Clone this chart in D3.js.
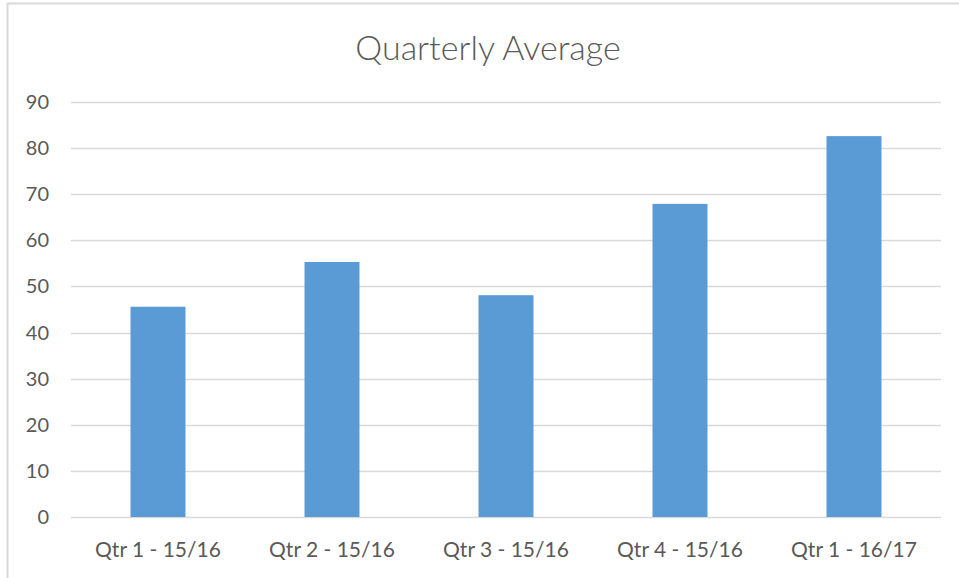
<!DOCTYPE html>
<html>
<head>
    <script type="text/javascript" src="https://cdn.jsdelivr.net/npm/d3@7"></script>
    <style>
    body {
        padding: 0;
        margin: 0;
        background: #fff;
    }
    text {
        font-family: Lato, "Open Sans", sans-serif;
        fill: #595959;
    }
  </style>
</head>
<body>
    <div id="viz"></div>
    <script type="text/javascript">

    // data
    var categories = ["Qtr 1 - 15/16", "Qtr 2 - 15/16", "Qtr 3 - 15/16", "Qtr 4 - 15/16", "Qtr 1 - 16/17"];
    var values = [45.6, 55.3, 48.1, 67.9, 82.6];
    var yTicks = [0, 10, 20, 30, 40, 50, 60, 70, 80, 90];
    var title = "Quarterly Average";

    var W = 959, H = 578;
    // plot area edges (don't call it "top", that is window.top)
    var pLeft = 71, pRight = 941, pTop = 102, pBottom = 517;

    var svg = d3.select('#viz')
      .append('svg')
      .attr('width', W)
      .attr('height', H);

    // chart frame, runs off the right/bottom edges
    svg.append('rect')
      .attr('x', 7.5).attr('y', 3.5)
      .attr('width', W + 20).attr('height', H + 20)
      .attr('fill', 'none')
      .attr('stroke', '#d9d9d9')
      .attr('stroke-width', 2);

    var x = d3.scaleBand()
      .domain(categories)
      .range([pLeft, pRight])
      .paddingInner(0.684)
      .paddingOuter(0.342);

    var y = d3.scaleLinear()
      .domain([0, 90])
      .range([pBottom, pTop]);

    // gridlines
    svg.append('g').selectAll('line').data(yTicks).enter().append('line')
      .attr('x1', pLeft).attr('x2', pRight)
      .attr('y1', function(d) { return Math.round(y(d)) + 0.5; })
      .attr('y2', function(d) { return Math.round(y(d)) + 0.5; })
      .attr('stroke', '#d9d9d9')
      .attr('stroke-width', 1.3);

    // y tick labels
    svg.append('g').selectAll('text').data(yTicks).enter().append('text')
      .attr('x', 49)
      .attr('y', function(d) { return y(d); })
      .attr('dy', '0.35em')
      .attr('text-anchor', 'end')
      .style('font-size', '20px')
      .text(function(d) { return d; });

    // bars
    svg.append('g').selectAll('rect').data(values).enter().append('rect')
      .attr('x', function(d, i) { return x(categories[i]); })
      .attr('width', x.bandwidth())
      .attr('y', function(d) { return y(d); })
      .attr('height', function(d) { return y(0) - y(d); })
      .attr('fill', '#5b9bd5');

    // category labels
    svg.append('g').selectAll('text').data(categories).enter().append('text')
      .attr('x', function(d) { return x(d) + x.bandwidth() / 2; })
      .attr('y', 557)
      .attr('text-anchor', 'middle')
      .style('font-size', '21px')
      .text(function(d) { return d; });

    // title, light weight like the original
    svg.append('text')
      .attr('x', 488)
      .attr('y', 60)
      .attr('text-anchor', 'middle')
      .style('font-size', '34px')
      .style('font-weight', 300)
      .text(title);
    </script>
</body>
</html>
